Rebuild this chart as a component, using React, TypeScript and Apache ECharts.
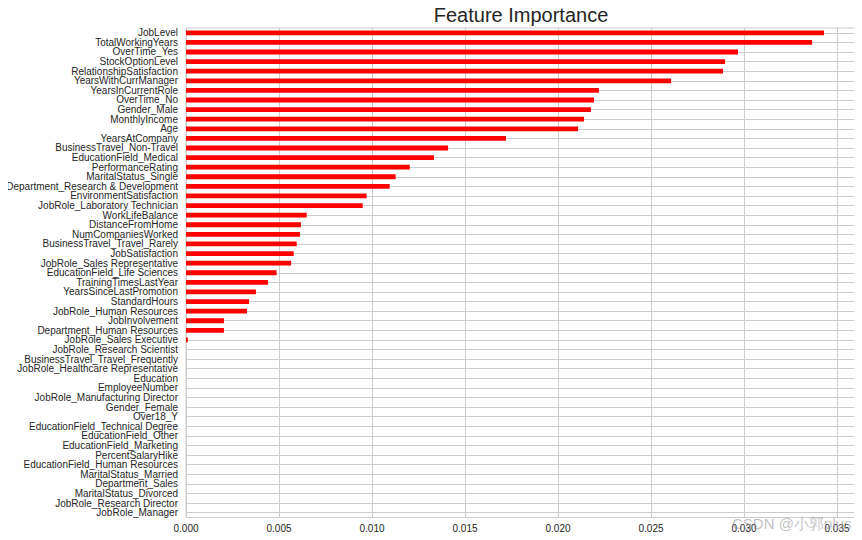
import React, { useEffect, useRef } from "react";
import * as echarts from "echarts";

const categories = [
  "JobLevel",
  "TotalWorkingYears",
  "OverTime_Yes",
  "StockOptionLevel",
  "RelationshipSatisfaction",
  "YearsWithCurrManager",
  "YearsInCurrentRole",
  "OverTime_No",
  "Gender_Male",
  "MonthlyIncome",
  "Age",
  "YearsAtCompany",
  "BusinessTravel_Non-Travel",
  "EducationField_Medical",
  "PerformanceRating",
  "MaritalStatus_Single",
  "Department_Research & Development",
  "EnvironmentSatisfaction",
  "JobRole_Laboratory Technician",
  "WorkLifeBalance",
  "DistanceFromHome",
  "NumCompaniesWorked",
  "BusinessTravel_Travel_Rarely",
  "JobSatisfaction",
  "JobRole_Sales Representative",
  "EducationField_Life Sciences",
  "TrainingTimesLastYear",
  "YearsSinceLastPromotion",
  "StandardHours",
  "JobRole_Human Resources",
  "JobInvolvement",
  "Department_Human Resources",
  "JobRole_Sales Executive",
  "JobRole_Research Scientist",
  "BusinessTravel_Travel_Frequently",
  "JobRole_Healthcare Representative",
  "Education",
  "EmployeeNumber",
  "JobRole_Manufacturing Director",
  "Gender_Female",
  "Over18_Y",
  "EducationField_Technical Degree",
  "EducationField_Other",
  "EducationField_Marketing",
  "PercentSalaryHike",
  "EducationField_Human Resources",
  "MaritalStatus_Married",
  "Department_Sales",
  "MaritalStatus_Divorced",
  "JobRole_Research Director",
  "JobRole_Manager",
];

const importance = [
  0.0343, 0.03366, 0.02968, 0.02898, 0.02887, 0.02608, 0.0222, 0.02194,
  0.02177, 0.0214, 0.02108, 0.0172, 0.01409, 0.01333, 0.01203, 0.01127,
  0.01095, 0.00971, 0.0095, 0.00649, 0.00618, 0.00613, 0.00595, 0.00579,
  0.00565, 0.00487, 0.00441, 0.00376, 0.00339, 0.00328, 0.00204, 0.00204,
  0.0001, 0, 0, 0, 0, 0, 0, 0, 0, 0, 0, 0, 0, 0, 0, 0, 0, 0, 0,
];

const xTickInterval = 0.005;
const xMax = 0.03602;
const titleText = "Feature Importance";
const watermarkText = "CSDN @小郭plus";

export default function App() {
  const ref = useRef<HTMLDivElement>(null);

  useEffect(() => {
    if (!ref.current) return;
    const chart = echarts.init(ref.current, null, { renderer: "svg" });
    const font = "Arial, 'Liberation Sans', sans-serif";
    chart.setOption({
      animation: false,
      backgroundColor: "#ffffff",
      grid: {
        left: 186,
        right: 6,
        top: 28,
        bottom: 22.5,
        show: true,
        borderColor: "#cccccc",
        borderWidth: 1,
        backgroundColor: "transparent",
      },
      xAxis: {
        type: "value",
        min: 0,
        max: xMax,
        interval: xTickInterval,
        axisLine: { show: false },
        axisTick: { show: false },
        splitLine: { show: true, lineStyle: { color: "#cccccc", width: 1 } },
        axisLabel: {
          showMaxLabel: false,
          color: "#262626",
          fontSize: 10,
          fontFamily: font,
          margin: 6,
          formatter: (v: number) => v.toFixed(3),
        },
      },
      yAxis: {
        type: "category",
        inverse: true,
        data: categories,
        axisLine: { show: false },
        axisTick: { show: false, alignWithLabel: true },
        splitLine: {
          show: true,
          alignWithLabel: true,
          interval: 0,
          lineStyle: { color: "#cccccc", width: 1 },
        },
        axisLabel: {
          interval: 0,
          color: "#262626",
          fontSize: 10,
          fontFamily: font,
          margin: 8,
        },
      },
      graphic: [
        {
          type: "text",
          x: 521,
          y: 15,
          style: {
            text: titleText,
            fill: "#262626",
            fontSize: 20,
            fontFamily: font,
            align: "center",
            verticalAlign: "middle",
          },
        },
        {
          type: "text",
          x: 732,
          y: 523,
          z: 100,
          style: {
            text: watermarkText,
            fill: "rgba(140,140,140,0.55)",
            fontSize: 15,
            fontFamily: font,
            align: "left",
            verticalAlign: "middle",
          },
        },
      ],
      series: [
        {
          type: "bar",
          data: importance,
          barWidth: "50%",
          itemStyle: { color: "#ff0000" },
        },
      ],
    });
    return () => chart.dispose();
  }, []);

  return <div ref={ref} style={{ width: 862, height: 540, margin: -8 }} />;
}
